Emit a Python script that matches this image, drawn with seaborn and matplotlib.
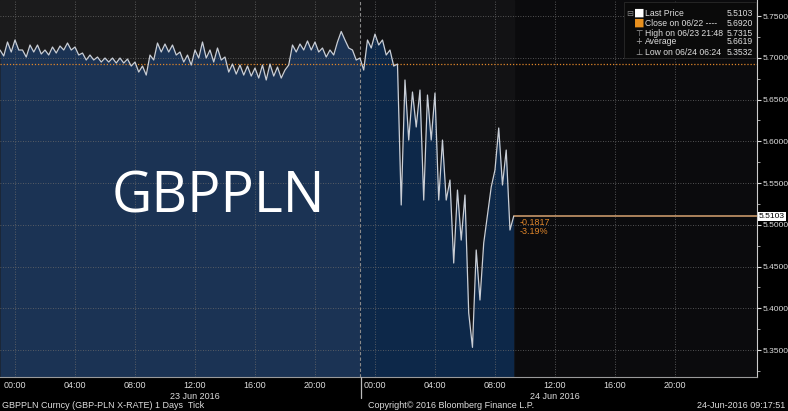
import numpy as np
import pandas as pd
import seaborn as sns
import matplotlib.pyplot as plt
from matplotlib.lines import Line2D
import matplotlib.transforms as mtransforms

# GBPPLN tick prices sampled every 15 min from 22 Jun 23:00 to 24 Jun 09:15
price = [5.7093, 5.7021, 5.7189, 5.7069, 5.7213, 5.7093, 5.7093, 5.7009, 5.7153, 5.7069,
         5.7153, 5.7045, 5.7093, 5.7033, 5.7129, 5.7057, 5.7141, 5.7093, 5.7177, 5.7093,
         5.7129, 5.7033, 5.7057, 5.6973, 5.7033, 5.6973, 5.7009, 5.6949, 5.6997, 5.6949,
         5.6997, 5.6937, 5.6997, 5.6937, 5.6985, 5.6901, 5.6949, 5.6829, 5.6901, 5.6793,
         5.7033, 5.6973, 5.7177, 5.7069, 5.7165, 5.7069, 5.7153, 5.7033, 5.7069, 5.6949,
         5.7033, 5.6913, 5.7093, 5.6997, 5.7189, 5.6997, 5.7093, 5.6949, 5.7117, 5.6973,
         5.7009, 5.6829, 5.6925, 5.6805, 5.6913, 5.6793, 5.6901, 5.6781, 5.6877, 5.6757,
         5.6913, 5.6734, 5.6925, 5.6781, 5.6889, 5.6757, 5.6853, 5.6913, 5.7153, 5.7069,
         5.7165, 5.7093, 5.7201, 5.7093, 5.7189, 5.7069, 5.7117, 5.7009, 5.7093, 5.7033,
         5.7189, 5.7315, 5.7213, 5.7117, 5.7093, 5.6973, 5.6997, 5.6853, 5.7213, 5.7117,
         5.7284, 5.7153, 5.7213, 5.7033, 5.7093, 5.6901, 5.6925, 5.5237, 5.6734, 5.6015,
         5.6590, 5.6171, 5.6614, 5.5296, 5.6554, 5.6015, 5.6578, 5.5296, 5.6015, 5.5296,
         5.5536, 5.4542, 5.5416, 5.4817, 5.5356, 5.3943, 5.3532, 5.4698, 5.4099, 5.4781,
         5.5117, 5.5452, 5.5656, 5.6159, 5.5476, 5.5895, 5.4937, 5.5103]
times = pd.date_range('2016-06-22 23:00', periods=len(price), freq='15min')
hours = ((times - pd.Timestamp('2016-06-23')) / pd.Timedelta(hours=1)).to_numpy()

close_prev = 5.6920
last_price = 5.5103
change = '-0.1817'
change_pct = '-3.19%'
yticks = [5.35, 5.40, 5.45, 5.50, 5.55, 5.60, 5.65, 5.70, 5.75]
xticks = [0, 4, 8, 12, 16, 20, 24, 28, 32, 36, 40, 44]
xlabels = ['00:00', '04:00', '08:00', '12:00', '16:00', '20:00'] * 2
day_labels = ['23 Jun 2016', '24 Jun 2016']
legend_rows = [('Last Price', '5.5103'), ('Close on 06/22 ----', '5.6920'),
               ('High on 06/23 21:48', '5.7315'), ('Average', '5.6619'),
               ('Low on 06/24 06:24', '5.3532')]

sns.set_style('dark')
plt.rcParams['font.family'] = ['Liberation Sans', 'DejaVu Sans']
W, H = 788, 411
fig = plt.figure(figsize=(W / 100, H / 100), dpi=100, facecolor='black')
ax = fig.add_axes([0, 1 - 377 / H, 757 / W, 377 / H])
ax.set_facecolor('#0b0b0d')
ymin, ymax = 5.3177, 5.7692
ax.set_xlim(-1, 49.47)
ax.set_ylim(ymin, ymax)

split = 23.0
ax.axvspan(-1, split, color='#1b1b1c', zorder=0)
ax.axvspan(split, hours[-1], color='#121214', zorder=0)
n = int(np.searchsorted(hours, split)) + 1
ax.fill_between(hours[:n], price[:n], ymin, color='#1b3354', lw=0, zorder=1)
ax.fill_between(hours[n - 1:], price[n - 1:], ymin, color='#0d2849', lw=0, zorder=1)

for y in yticks:
    ax.axhline(y, color='#6a6a6a', lw=0.6, ls=(0, (1, 2)), zorder=2)
for x in xticks:
    ax.axvline(x, color='#6a6a6a', lw=0.6, ls=(0, (1, 2)), zorder=2)
ax.axvline(split, color='#8a8a8a', lw=0.8, ls=(0, (3, 2)), zorder=2)

ax.axhline(close_prev, color='#e0862a', lw=0.9, ls=(0, (1, 1.5)), zorder=3)
sns.lineplot(x=hours, y=price, ax=ax, color='#c9ced6', lw=0.9, zorder=4)
ax.plot([hours[-1], 49.47], [last_price, last_price], color='#b88c62', lw=1.3, zorder=3)

ax.text(hours[-1] + 0.4, last_price - 0.0070, change, color='#e0862a', fontsize=6.5,
        va='center', zorder=5)
ax.text(hours[-1] + 0.4, last_price - 0.0178, change_pct, color='#e0862a', fontsize=6.5,
        va='center', zorder=5)

# axes cosmetics
for s in ['top', 'left']:
    ax.spines[s].set_visible(False)
ax.spines['right'].set_color('#cccccc')
ax.spines['right'].set_linewidth(0.8)
ax.spines['bottom'].set_color('#9a9a9a')
ax.yaxis.tick_right()
ax.set_yticks(yticks)
ax.set_yticklabels([f'{v:.4f}' for v in yticks])
ax.set_yticks([v + 0.025 for v in yticks[:-1]] + [5.325], minor=True)
ax.tick_params(axis='y', which='major', direction='out', length=3, color='#dddddd',
               labelcolor='#dddddd', labelsize=6, pad=1)
ax.tick_params(axis='y', which='minor', direction='out', length=2, color='#bbbbbb')
ax.set_xticks(xticks)
ax.set_xticklabels(xlabels)
ax.set_xticks([x + 2 for x in xticks], minor=True)
ax.tick_params(axis='x', which='major', length=0, labelcolor='#dddddd', labelsize=6.5, pad=3)
ax.tick_params(axis='x', which='minor', direction='out', length=3, color='#aaaaaa')
ax.set_xlabel('')
ax.set_ylabel('')
ax.grid(False)

trans = mtransforms.blended_transform_factory(ax.transData, ax.transAxes)
for x, lab in zip([12, 36], day_labels):
    ax.text(x, -19 / 377, lab, transform=trans, ha='center', va='center',
            color='#dddddd', fontsize=6.5, clip_on=False)
fig.add_artist(Line2D([361 / W, 361 / W], [1 - 377 / H, 1 - 398 / H], color='#bbbbbb', lw=0.9))

ax.text(772, last_price, f'{last_price:.4f}', transform=mtransforms.blended_transform_factory(
    mtransforms.IdentityTransform(), ax.transData), ha='center', va='center', fontsize=6,
    color='black', bbox=dict(boxstyle='square,pad=0.12', fc='white', ec='none'), clip_on=False)

fig.text(218 / W, 1 - 198 / H, 'GBPPLN', color='white', fontsize=40, family='Open Sans',
         ha='center', va='center')

# legend box
box = plt.Rectangle((624 / W, 1 - 58 / H), 132 / W, 56 / H, transform=fig.transFigure,
                    fc='#0a0a0a', ec='#2a2a2a', lw=0.6, zorder=10)
fig.add_artist(box)
ys = [13, 23, 33, 42, 52]
marks = ['■', '■', '⊤', '+', '⊥']
mcolors = ['white', '#e8901e', '#aaaaaa', '#aaaaaa', '#aaaaaa']
fig.text(630 / W, 1 - 13 / H, '⊟', color='#888888', fontsize=6, ha='center', va='center',
         zorder=11, family='DejaVu Sans')
for y, (name, val), m, mc in zip(ys, legend_rows, marks, mcolors):
    fig.text(639 / W, 1 - y / H, m, color=mc, fontsize=8 if m == '■' else 6,
             ha='center', va='center', zorder=11, family='DejaVu Sans')
    fig.text(645 / W, 1 - y / H, name, color='#dddddd', fontsize=6.2, va='center', zorder=11)
    fig.text(753 / W, 1 - y / H, val, color='#dddddd', fontsize=6.2, va='center', ha='right', zorder=11)

# footer
fig.text(2 / W, 1 - 405 / H, 'GBPPLN Curncy (GBP-PLN X-RATE) 1 Days  Tick', color='#dddddd',
         fontsize=6.5, va='center')
fig.text(368 / W, 1 - 405 / H, 'Copyright\u00a9 2016 Bloomberg Finance L.P.', color='#dddddd',
         fontsize=6.5, va='center')
fig.text(785 / W, 1 - 405 / H, '24-Jun-2016 09:17:51', color='#dddddd', fontsize=6.5,
         va='center', ha='right')

fig.savefig('out.png', dpi=100, facecolor='black')
